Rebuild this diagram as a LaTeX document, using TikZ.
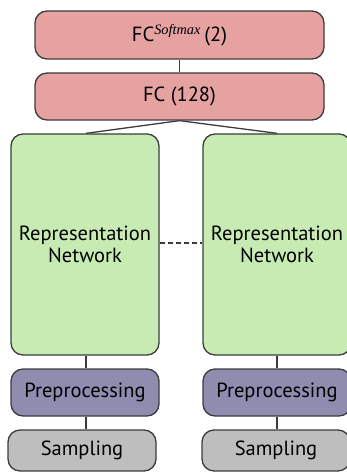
\documentclass[tikz,border=0pt]{standalone}
\usepackage{fontspec}
\setmainfont{PT Sans}
\newfontfamily\serifit{Liberation Serif}
\definecolor{cred}{RGB}{230,161,161}
\definecolor{cgreen}{RGB}{200,235,180}
\definecolor{cpurple}{RGB}{143,140,176}
\definecolor{cgray}{RGB}{190,190,190}
\definecolor{cline}{RGB}{60,60,60}
\begin{document}
\begin{tikzpicture}[x=1pt,y=-1pt,
  box/.style={draw=cline,line width=1.3pt,rounded corners=12pt,inner sep=0pt,align=center,font=\fontsize{20.5}{22}\selectfont},
  conn/.style={draw=cline,line width=1.3pt}]
\useasboundingbox (0,0) rectangle (346,473);
\node[box,fill=cred,minimum width=289pt,minimum height=48pt] (sm) at (179.5,35) {FC\textsuperscript{\serifit\itshape Softmax}\,(2)};
\node[box,fill=cred,minimum width=289pt,minimum height=47pt] (fc) at (179.5,96.5) {FC (128)};
\node[box,fill=cgreen,minimum width=148pt,minimum height=221pt] (repL) at (85,244.5) {Representation\\Network};
\node[box,fill=cgreen,minimum width=148pt,minimum height=221pt] (repR) at (277,244.5) {Representation\\Network};
\node[box,fill=cpurple,minimum width=148pt,minimum height=47pt] (preL) at (85,392.5) {Preprocessing};
\node[box,fill=cpurple,minimum width=148pt,minimum height=47pt] (preR) at (277,392.5) {Preprocessing};
\node[box,fill=cgray,minimum width=148pt,minimum height=41pt] (samL) at (82,450.5) {Sampling};
\node[box,fill=cgray,minimum width=148pt,minimum height=41pt] (samR) at (276,450.5) {Sampling};
\draw[conn] (sm) -- (fc);
\draw[conn] (fc.south) -- ([xshift=1pt]repL.north);
\draw[conn] (fc.south) -- (repR.north);
\draw[conn] ([xshift=1pt]repL.south) -- ([xshift=1pt]preL.north);
\draw[conn] (repR.south) -- (preR.north);
\draw[conn] ([xshift=1pt]preL.south) -- ([xshift=4pt]samL.north);
\draw[conn] (preR.south) -- ([xshift=1pt]samR.north);
\draw[conn,dash pattern=on 5pt off 3pt] (repL.east |- 0,243) -- (repR.west |- 0,243);
\end{tikzpicture}
\end{document}
